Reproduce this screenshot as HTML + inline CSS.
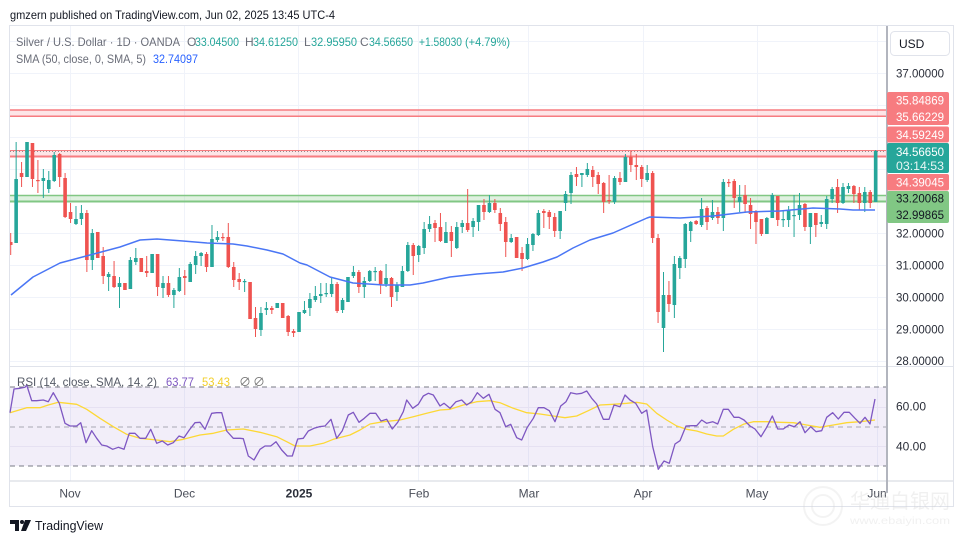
<!DOCTYPE html>
<html><head><meta charset="utf-8">
<style>
html,body{margin:0;padding:0;background:#fff;}
svg{display:block;}
text{font-family:"Liberation Sans","Noto Sans CJK SC",sans-serif;}
</style></head>
<body>
<svg id="c" width="964" height="544" viewBox="0 0 964 544" xmlns="http://www.w3.org/2000/svg">
<rect width="964" height="544" fill="#fff"/>
<text x="10" y="19" font-size="12" fill="#131722" textLength="325" lengthAdjust="spacingAndGlyphs">gmzern published on TradingView.com, Jun 02, 2025 13:45 UTC-4</text>
<rect x="9.5" y="25.5" width="944" height="481" fill="#fff" stroke="#e0e3eb"/>

<!-- grid -->
<g stroke="#f0f3fa" stroke-width="1">
<line x1="10" y1="41.5" x2="887" y2="41.5"/>
<line x1="10" y1="73.5" x2="887" y2="73.5"/>
<line x1="10" y1="105.5" x2="887" y2="105.5"/>
<line x1="10" y1="137.5" x2="887" y2="137.5"/>
<line x1="10" y1="169.5" x2="887" y2="169.5"/>
<line x1="10" y1="201.5" x2="887" y2="201.5"/>
<line x1="10" y1="233.5" x2="887" y2="233.5"/>
<line x1="10" y1="265.5" x2="887" y2="265.5"/>
<line x1="10" y1="297.5" x2="887" y2="297.5"/>
<line x1="10" y1="329.5" x2="887" y2="329.5"/>
<line x1="10" y1="361.5" x2="887" y2="361.5"/>
<line x1="70.5" y1="26" x2="70.5" y2="481"/>
<line x1="184.5" y1="26" x2="184.5" y2="481"/>
<line x1="298.5" y1="26" x2="298.5" y2="481"/>
<line x1="418.5" y1="26" x2="418.5" y2="481"/>
<line x1="528.5" y1="26" x2="528.5" y2="481"/>
<line x1="643.5" y1="26" x2="643.5" y2="481"/>
<line x1="757.5" y1="26" x2="757.5" y2="481"/>
<line x1="877.5" y1="26" x2="877.5" y2="481"/>
</g>

<!-- horizontal bands -->
<rect x="10" y="110" width="877" height="6" fill="rgba(242,54,69,0.13)"/>
<line x1="10" y1="110" x2="887" y2="110" stroke="#f77c80" stroke-width="1.5"/>
<line x1="10" y1="116.3" x2="887" y2="116.3" stroke="#f77c80" stroke-width="1.5"/>
<rect x="10" y="150.5" width="877" height="6" fill="rgba(242,54,69,0.13)"/>
<line x1="10" y1="150.5" x2="887" y2="150.5" stroke="#f77c80" stroke-width="1"/>
<line x1="10" y1="151.5" x2="887" y2="151.5" stroke="#555" stroke-width="1" stroke-dasharray="1,2" opacity="0.6"/>
<line x1="10" y1="156.5" x2="887" y2="156.5" stroke="#f77c80" stroke-width="2"/>
<rect x="10" y="195.5" width="877" height="6" fill="rgba(129,199,132,0.25)"/>
<line x1="10" y1="195.5" x2="887" y2="195.5" stroke="#81c784" stroke-width="1.5"/>
<line x1="10" y1="201.5" x2="887" y2="201.5" stroke="#81c784" stroke-width="2"/>

<!-- candles -->
<g id="candles"></g>

<!-- SMA 50 -->
<polyline fill="none" stroke="#4a76f5" stroke-width="1.5" stroke-linejoin="round" points="11,295 33,277 60,263 90,255 120,247 140,240 157,239 183,241 207,243 233,244 247,246 267,250 283,254 300,263 307,265 330,277 353,283 383,285 410,285 423,283 450,277 477,274 503,272 523,268 543,262 557,257 573,248 590,240 613,233 647,218 650,217 680,218 713,216 747,212 780,211 813,208 840,209 853,210 875,210"/>

<!-- legend -->
<text x="16" y="46" font-size="12" fill="#6a6d78" textLength="164" lengthAdjust="spacingAndGlyphs">Silver / U.S. Dollar · 1D · OANDA</text>
<text x="187" y="46" font-size="12" fill="#6a6d78">O</text>
<text x="195" y="46" font-size="12" fill="#26a69a" textLength="44" lengthAdjust="spacingAndGlyphs">33.04500</text>
<text x="245" y="46" font-size="12" fill="#6a6d78">H</text>
<text x="253" y="46" font-size="12" fill="#26a69a" textLength="45" lengthAdjust="spacingAndGlyphs">34.61250</text>
<text x="304" y="46" font-size="12" fill="#6a6d78">L</text>
<text x="311" y="46" font-size="12" fill="#26a69a" textLength="46" lengthAdjust="spacingAndGlyphs">32.95950</text>
<text x="360" y="46" font-size="12" fill="#6a6d78">C</text>
<text x="369" y="46" font-size="12" fill="#26a69a" textLength="44" lengthAdjust="spacingAndGlyphs">34.56650</text>
<text x="419" y="46" font-size="12" fill="#26a69a" textLength="43" lengthAdjust="spacingAndGlyphs">+1.58030</text>
<text x="465" y="46" font-size="12" fill="#26a69a" textLength="45" lengthAdjust="spacingAndGlyphs">(+4.79%)</text>
<text x="16" y="63" font-size="12" fill="#6a6d78" textLength="130" lengthAdjust="spacingAndGlyphs">SMA (50, close, 0, SMA, 5)</text>
<text x="153" y="63" font-size="12" fill="#2962ff" textLength="45" lengthAdjust="spacingAndGlyphs">32.74097</text>

<!-- pane separator -->
<line x1="10" y1="366.5" x2="953" y2="366.5" stroke="#e0e3eb" stroke-width="1"/>

<!-- RSI pane -->
<rect x="10" y="387" width="877" height="79" fill="rgba(126,87,194,0.1)"/>
<line x1="10" y1="407.5" x2="887" y2="407.5" stroke="#e6e1f2" stroke-width="1"/>
<line x1="10" y1="446.5" x2="887" y2="446.5" stroke="#e6e1f2" stroke-width="1"/>
<g stroke="#787b86" stroke-width="1" stroke-dasharray="5,4">
<line x1="10" y1="387" x2="887" y2="387"/>
<line x1="10" y1="427" x2="887" y2="427" opacity="0.6"/>
<line x1="10" y1="466" x2="887" y2="466"/>
</g>
<polyline fill="none" stroke="#fdd835" stroke-width="1.3" stroke-linejoin="round" points="10,412.7 26.7,407.7 40,407.7 48.3,405 58.3,402.3 76.7,404.3 86.7,409.3 100,418.3 113.3,426.7 126.7,434.3 140,438.3 156.7,440 170,441.7 183.3,439.3 200,435 213.3,433.3 226.7,430 243.3,429 260,432.3 276.7,436.7 286.7,441.7 295,446 310,446 323.3,443.3 333.3,439.3 350,435 360,430 370,424 383.3,421.7 400,420 413.3,416.7 426.7,413.3 440,410 450,409.3 463.3,405 476.7,401.7 490,400.7 500,402.7 513.3,408.3 526.7,412.7 540,414 553.3,416 565,417.7 576.7,416 588.3,410.7 600,405 613.3,404.3 626.7,403.3 636.7,402.3 646.7,404 656.7,413.3 666.7,420 676.7,426 686.7,429.3 696.7,431 706.7,434 716.7,436 723.3,436 733.3,429.3 743.3,424.3 753.3,421.7 766.7,421.7 780,422.3 793.3,422.7 806.7,425 820,427.3 833.3,425 846.7,422.7 860,421.7 875,420"/>
<polyline fill="none" stroke="#7e57c2" stroke-width="1.3" stroke-linejoin="round" points="10,412.7 14,389 20,388.3 25,387.3 26.7,385 31.7,400.7 36.7,400.7 43.3,400 48.3,401.7 53.3,392.7 59.3,403.3 65,423.3 70,426 76.7,426 80.7,422.7 86,442.7 91.7,430.7 96.7,438.3 101.7,445 106.7,446 112.7,449.3 118.3,447.3 124,449.3 129.3,433.3 135,433.3 140,438.3 145.7,438.3 150.7,429.3 156.7,443.3 162.3,441 167.7,445 173.3,442.7 179,436 184,437.7 189.3,430 195,422.7 200,422.3 205,429.3 211.7,413.3 216.7,412.7 221.7,412.7 226.7,431 233.3,438.3 240,438.3 243.3,438.7 248.3,456 254,460 260,449.3 265,446 270.7,446 276,441.7 281.7,450 287.3,456 292.3,456 297.7,439 303.3,438.3 308.3,431 314,428.3 319.3,426.7 325,426 331,419.3 336.7,438.3 342.3,430.7 348.3,415 353.3,412.3 359,422.3 364.3,418.3 370,413.3 375.7,413.3 381,421 386.7,419.3 392.3,429 397.7,422.3 403.3,411.7 406.7,400 412.7,408.3 418.3,404.3 423.3,396 428.3,393.3 433.3,395 440,406 444,403.3 450,408.3 456,401.7 461.7,400 466.7,405 471.7,401.7 477.3,392.7 483.3,398.3 489,394.3 495,409.3 500,412.7 505.7,426.7 510.7,424.3 516.7,437.7 521.7,440 527.3,427.3 533.3,418.3 538.3,407.7 544,407.7 549.3,410.7 555,421.7 560.7,406 566,401.7 570.7,392.7 576.7,394 581.7,393.3 586.7,391 591.7,398.3 596.7,404 603.3,419.3 609,419.3 614,405 620,406.7 625,395 630,400 635.7,403.3 641.7,413.3 646.7,410 652.7,446.7 658.3,469.3 664,461 669.3,463.3 675,444 680,440.7 686,426 691.7,425.7 696.7,425.7 701.7,420 706.7,423.3 712.7,421.7 717.7,424 723.3,409.3 728.3,409.3 734,417.3 739,417.3 744,420 750,426 755,429 761,436.7 766.7,427.3 772.3,416 777.7,429 783.3,429 789,425 794.3,426.7 800,421.7 805,432.7 810.7,426.7 816,431.7 821.7,430.7 826.7,417.3 832.7,412.7 838.3,419 844,412.3 849.3,412.3 855,418.3 860,423.3 865,417.3 870,424 875,399"/>
<text x="17" y="386" font-size="12" fill="#555a66" textLength="140" lengthAdjust="spacingAndGlyphs">RSI (14, close, SMA, 14, 2)</text>
<text x="166" y="386" font-size="12" fill="#7e57c2" textLength="28" lengthAdjust="spacingAndGlyphs">63.77</text>
<text x="202" y="386" font-size="12" fill="#f2cf2a" textLength="28" lengthAdjust="spacingAndGlyphs">53.43</text>
<text x="239" y="386" font-size="12" fill="#777">∅</text>
<text x="253" y="386" font-size="12" fill="#777">∅</text>

<!-- time axis -->
<line x1="10" y1="481" x2="953" y2="481" stroke="#d1d4dc" stroke-width="1"/>
<g font-size="12" fill="#4a4e59" text-anchor="middle">
<text x="70" y="497.5">Nov</text>
<text x="184.5" y="497.5">Dec</text>
<text x="299" y="497.5" font-weight="bold" fill="#2a2e39">2025</text>
<text x="419" y="497.5">Feb</text>
<text x="529" y="497.5">Mar</text>
<text x="643" y="497.5">Apr</text>
<text x="757" y="497.5">May</text>
<text x="877" y="497.5">Jun</text>
</g>

<!-- price axis -->
<line x1="887" y1="26" x2="887" y2="493" stroke="#b2b5be" stroke-width="2"/>
<rect x="890.5" y="31.5" width="59" height="24" rx="4" fill="#fff" stroke="#e0e3eb"/>
<text x="899" y="48" font-size="12" fill="#131722">USD</text>
<g font-size="12" fill="#2a2e39">
<text x="896" y="77.5" textLength="48" lengthAdjust="spacingAndGlyphs">37.00000</text>
<text x="896" y="237.5" textLength="48" lengthAdjust="spacingAndGlyphs">32.00000</text>
<text x="896" y="269.5" textLength="48" lengthAdjust="spacingAndGlyphs">31.00000</text>
<text x="896" y="301.5" textLength="48" lengthAdjust="spacingAndGlyphs">30.00000</text>
<text x="896" y="333.5" textLength="48" lengthAdjust="spacingAndGlyphs">29.00000</text>
<text x="896" y="365" textLength="48" lengthAdjust="spacingAndGlyphs">28.00000</text>
<text x="896" y="410.5" textLength="30" lengthAdjust="spacingAndGlyphs">60.00</text>
<text x="896" y="450.5" textLength="30" lengthAdjust="spacingAndGlyphs">40.00</text>
</g>
<rect x="887" y="92" width="62" height="33" rx="2" fill="#f77c80"/>
<rect x="887" y="126.5" width="62" height="16" rx="2" fill="#f77c80"/>
<rect x="887" y="143" width="62" height="30" rx="2" fill="#26a69a"/>
<rect x="887" y="174" width="62" height="16.5" rx="2" fill="#f77c80"/>
<rect x="887" y="191" width="62" height="32" rx="2" fill="#81c784"/>
<g font-size="12">
<text x="896" y="104.5" fill="#fff" textLength="48" lengthAdjust="spacingAndGlyphs">35.84869</text>
<text x="896" y="121" fill="#fff" textLength="48" lengthAdjust="spacingAndGlyphs">35.66229</text>
<text x="896" y="139" fill="#fff" textLength="48" lengthAdjust="spacingAndGlyphs">34.59249</text>
<text x="896" y="156" fill="#fff" textLength="48" lengthAdjust="spacingAndGlyphs">34.56650</text>
<text x="896" y="170" fill="#e8f6f4" textLength="48" lengthAdjust="spacingAndGlyphs">03:14:53</text>
<text x="896" y="186.5" fill="#fff" textLength="48" lengthAdjust="spacingAndGlyphs">34.39045</text>
<text x="896" y="202.5" fill="#131722" textLength="48" lengthAdjust="spacingAndGlyphs">33.20068</text>
<text x="896" y="219" fill="#131722" textLength="48" lengthAdjust="spacingAndGlyphs">32.99865</text>
</g>

<!-- watermark -->
<g opacity="0.3">
<circle cx="823" cy="506" r="19" fill="none" stroke="#d8d8d8" stroke-width="2"/>
<circle cx="823" cy="506" r="11" fill="none" stroke="#d8d8d8" stroke-width="2"/>
<text x="850" y="508" font-size="20" fill="#d0d0d0" font-family="Noto Sans CJK SC, sans-serif">华通白银网</text>
<text x="850" y="524" font-size="10" fill="#d0d0d0" textLength="100" lengthAdjust="spacingAndGlyphs">www.ebaiyin.com</text>
</g>

<!-- TradingView logo -->
<path d="M10 520 h9 v11 h-4 v-7 h-5 z" fill="#131722"/>
<circle cx="22" cy="522" r="2" fill="#131722"/>
<path d="M25 520 h6 l-5 11 h-5 z" fill="#131722"/>
<text x="35" y="530" font-size="13" fill="#131722" textLength="68" lengthAdjust="spacingAndGlyphs">TradingView</text>
</svg>
<script>
var D=[[0,233,242,245,255],[1,142,179,243,243],[0,162,173,177,187],[1,142,142,177,177],[0,143,143,179,187],[0,160,180,181,193],[1,169,178,181,198],[1,171,180,189,193],[1,152,155,181,182],[0,153,154,177,187],
[0,173,178,217,218],[0,203,212,219,223],[1,206,219,224,225],[1,205,213,219,225],[0,210,213,260,272],[1,229,233,260,270],[0,232,232,258,258],[0,247,256,276,284],[1,272,274,277,291],[0,261,276,287,288],
[1,277,283,287,308],[0,283,283,290,290],[1,257,260,289,289],[1,248,258,262,265],[0,258,258,272,272],[0,256,271,273,277],[1,254,254,273,273],[0,254,254,287,296],[1,276,283,288,298],[0,276,283,295,297],
[1,288,290,295,308],[1,268,277,291,292],[0,270,276,278,295],[1,262,264,282,282],[1,251,256,265,274],[1,252,253,256,266],[0,252,254,267,272],[1,225,239,267,267],[1,231,237,240,242],[0,233,237,238,241],
[0,223,237,267,268],[0,262,267,280,287],[0,273,279,282,290],[1,279,281,282,292],[0,282,282,319,319],[0,307,318,329,337],[1,307,313,330,336],[1,302,308,310,315],[0,306,308,310,314],[1,303,303,308,308],
[0,303,303,318,318],[0,315,316,332,336],[0,329,331,333,337],[1,312,312,332,332],[1,301,310,313,314],[1,293,299,308,316],[1,286,296,300,302],[1,283,294,296,303],[1,283,293,294,297],[1,278,284,294,297],
[0,282,284,311,313],[1,298,300,310,313],[1,277,277,302,302],[1,266,272,276,278],[0,270,272,287,293],[1,277,281,287,298],[1,270,271,281,282],[1,267,271,272,281],[0,270,271,284,294],[1,264,278,284,287],
[0,277,278,297,307],[1,282,285,292,301],[1,266,271,287,287],[1,242,245,271,272],[0,243,245,256,275],[1,245,246,255,262],[1,222,229,248,254],[1,216,224,229,232],[0,220,223,228,242],[0,213,227,241,242],
[1,222,232,243,243],[0,226,232,241,257],[1,222,227,248,249],[1,220,223,227,233],[0,189,223,230,232],[1,218,221,227,237],[1,205,205,222,231],[0,199,205,212,220],[1,195,203,212,213],[0,199,203,210,213],
[0,208,213,224,231],[0,217,222,242,257],[1,234,238,242,243],[0,237,237,258,258],[0,247,253,259,271],[1,238,244,259,260],[1,233,234,245,251],[1,210,213,235,236],[0,209,211,213,228],[0,210,212,217,229],
[0,213,217,231,237],[1,211,211,231,239],[1,191,194,203,211],[1,172,175,193,204],[0,167,174,177,186],[1,173,173,175,187],[1,163,169,175,177],[0,166,170,177,187],[0,172,175,184,194],[0,182,183,202,213],
[0,175,200,201,204],[1,176,178,202,204],[0,172,178,182,185],[1,154,157,182,182],[0,151,157,165,172],[0,154,165,167,180],[0,165,167,179,187],[1,165,173,180,182],[0,171,173,238,243],[0,234,238,312,323],
[1,272,295,328,352],[0,281,295,304,312],[1,256,264,305,318],[1,256,258,268,279],[1,223,224,259,268],[1,221,222,231,242],[0,220,221,224,225],[1,198,209,225,227],[0,206,208,222,230],[1,200,212,218,220],
[0,207,212,218,224],[1,179,182,218,231],[0,179,182,183,187],[0,179,181,198,208],[1,185,197,202,212],[0,185,195,204,212],[0,198,205,214,229],[0,210,211,222,244],[0,219,219,234,236],[1,217,218,234,234],
[1,193,195,218,218],[0,196,196,220,226],[1,210,219,220,227],[1,206,210,220,227],[1,195,215,216,237],[1,193,205,215,220],[0,203,204,227,231],[1,213,213,227,244],[0,213,213,225,237],[1,215,222,224,227],
[1,196,199,224,229],[1,187,189,199,203],[0,179,187,203,213],[1,183,187,203,204],[1,183,186,189,193],[0,185,186,194,203],[0,187,193,203,210],[1,187,192,203,212],[0,190,192,203,208],[1,150,151,202,202]];
var s='';
for(var i=0;i<D.length;i++){var d=D[i];var x=10.7+5.44*i;var col=d[0]?'#26a69a':'#ef5350';
var xw=Math.max(x,10.5);
s+='<line x1="'+xw+'" y1="'+d[1]+'" x2="'+xw+'" y2="'+d[4]+'" stroke="'+col+'" stroke-width="1"/>';
var h=Math.max(1.2,d[3]-d[2]);var rx=Math.max(10,x-1.8);var w=(x+1.8)-rx;
s+='<rect x="'+rx+'" y="'+d[2]+'" width="'+w+'" height="'+h+'" fill="'+col+'"/>';}
document.getElementById('candles').innerHTML=s;
</script>
</body></html>
